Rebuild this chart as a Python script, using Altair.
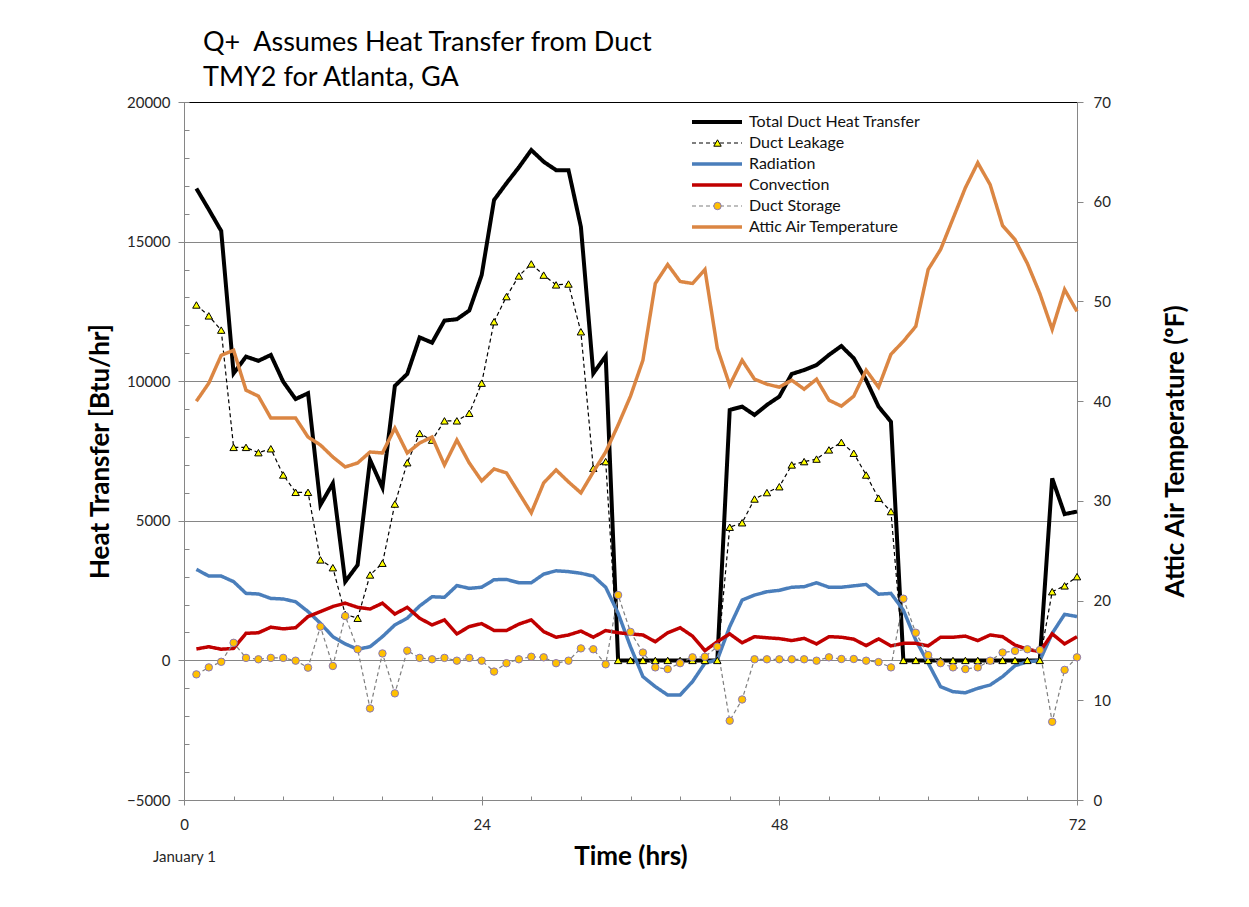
import altair as alt
import pandas as pd

hours = list(range(1, 73))

total = [16900, 16150, 15380, 10280, 10880, 10730, 10940, 9980, 9360, 9570,
         5570, 6340, 2820, 3420, 7180, 6190, 9830, 10260, 11570, 11380,
         12170, 12220, 12530, 13800, 16490, 17090, 17660, 18280, 17860, 17560,
         17560, 15530, 10280, 10900, 0, 0, 0, 0, 0, 0,
         0, 0, 0, 8970, 9090, 8790, 9150, 9450, 10260, 10400,
         10580, 10940, 11260, 10820, 10040, 9090, 8550, 0, 0, 0,
         0, 0, 0, 0, 0, 0, 0, 0, 0, 6520, 5240, 5330]

leakage = [12730, 12340, 11830, 7630, 7630, 7440, 7580, 6640, 6020, 6020,
           3600, 3320, 1650, 1510, 3060, 3480, 5600, 7080, 8130, 7890,
           8580, 8580, 8850, 9930, 12130, 13030, 13770, 14200, 13800, 13450,
           13480, 11770, 6880, 7120, 0, 0, 0, 0, 0, 0,
           0, 0, 0, 4770, 4930, 5780, 6010, 6220, 7000, 7120,
           7210, 7540, 7810, 7420, 6640, 5810, 5330, 0, 0, 0,
           0, 0, 0, 0, 0, 0, 0, 0, 0, 2460, 2670, 3000]

radiation = [3260, 3020, 3020, 2820, 2400, 2380, 2220, 2200, 2100, 1750,
             1330, 850, 590, 400, 490, 850, 1270, 1510, 1950, 2280,
             2260, 2680, 2580, 2620, 2890, 2900, 2780, 2780, 3090, 3210,
             3180, 3120, 3020, 2620, 1690, 490, -580, -940, -1240, -1240,
             -760, -100, 20, 1210, 2160, 2340, 2460, 2510, 2620, 2640,
             2780, 2620, 2620, 2670, 2720, 2370, 2400, 1800, 730, -100,
             -940, -1120, -1160, -1000, -880, -580, -190, -50, -10, 970, 1650, 1570]

convection = [410, 490, 400, 430, 970, 990, 1190, 1130, 1170, 1570,
              1750, 1930, 2050, 1900, 1840, 2050, 1660, 1900, 1510, 1270,
              1450, 950, 1210, 1320, 1070, 1070, 1300, 1450, 1030, 830,
              910, 1050, 830, 1070, 990, 950, 910, 670, 990, 1170,
              870, 350, 670, 950, 630, 850, 810, 780, 710, 790,
              590, 850, 830, 760, 530, 770, 520, 610, 610, 520,
              830, 830, 870, 710, 910, 850, 550, 400, 310, 950, 590, 850]

storage = [-500, -250, -50, 630, 90, 40, 90, 90, -10, -260,
           1210, -200, 1590, 400, -1720, 250, -1180, 350, 90, 40,
           90, -10, 90, -10, -400, -100, 40, 130, 110, -100,
           -10, 430, 400, -140, 2340, 1020, 280, -250, -310, -100,
           110, 130, 490, -2160, -1400, 40, 40, 40, 40, 40,
           -10, 110, 50, 50, -10, -60, -250, 2210, 990, 190,
           -100, -250, -310, -250, -10, 280, 340, 400, 370, -2200, -340, 110]

attic = [40.0, 41.8, 44.6, 45.1, 41.1, 40.5, 38.3, 38.3, 38.3, 36.4,
         35.6, 34.4, 33.4, 33.8, 34.9, 34.8, 37.3, 34.8, 35.8, 36.4,
         33.6, 36.1, 33.8, 32.0, 33.2, 32.8, 30.8, 28.8, 31.8, 33.1,
         31.9, 30.8, 32.9, 34.9, 37.6, 40.5, 44.1, 51.8, 53.7, 52.0,
         51.8, 53.2, 45.3, 41.6, 44.1, 42.2, 41.7, 41.4, 42.1, 41.2,
         42.2, 40.1, 39.5, 40.5, 43.1, 41.4, 44.7, 46.0, 47.5, 53.2,
         55.2, 58.3, 61.4, 63.9, 61.7, 57.6, 56.2, 53.8, 50.8, 47.2, 51.2, 49.0]

series_names = ["Total Duct Heat Transfer", "Duct Leakage", "Radiation",
                "Convection", "Duct Storage", "Attic Air Temperature"]
title_lines = ["Q+ \u00a0Assumes Heat Transfer from Duct", "TMY2 for Atlanta, GA"]

# styles
line_colors = ["#000000", "#000000", "#4A7EBB", "#C00000", "#7F7F7F", "#DB8643"]
line_dashes = [[1, 0], [4, 3], [1, 0], [1, 0], [4, 3], [1, 0]]
line_widths = [4, 1.2, 3.5, 3.5, 1.2, 3.5]
pt_keys = ["p1", "p2", "p3", "p4", "p5", "p6"]
pt_fills = ["transparent", "#FFFF00", "transparent", "transparent", "#FFC000", "transparent"]
pt_strokes = ["transparent", "#000000", "transparent", "transparent", "#8A78B8", "transparent"]
pt_shapes = ["circle", "triangle-up", "circle", "circle", "circle", "circle"]

left_series = {"Total Duct Heat Transfer": total, "Duct Leakage": leakage,
               "Radiation": radiation, "Convection": convection, "Duct Storage": storage}
rows = []
for name, vals in left_series.items():
    for h, v in zip(hours, vals):
        rows.append({"hour": h, "value": v, "series": name})
left_df = pd.DataFrame(rows)

pt_rows = []
for name, key in [("Duct Leakage", "p2"), ("Duct Storage", "p5")]:
    for h, v in zip(hours, left_series[name]):
        pt_rows.append({"hour": h, "value": v, "pt": key})
pt_df = pd.DataFrame(pt_rows)

right_df = pd.DataFrame({"hour": hours, "temp": attic,
                         "series": ["Attic Air Temperature"] * len(hours)})

FONT = "Lato"
TXT = "#262626"
GRID = "#868686"
AXT = 26

leg1 = alt.Legend(title=None, orient="none", legendX=506, legendY=9.5,
                  symbolType="stroke", symbolSize=2500, clipHeight=21,
                  rowPadding=0, padding=0, labelFont=FONT, labelFontSize=16,
                  labelColor="#111111", labelOffset=5, labelLimit=400)
leg2 = alt.Legend(title=None, orient="none", legendX=526.5, legendY=9.5,
                  symbolSize=55, clipHeight=21, rowPadding=0, padding=0,
                  labelOpacity=0, labelFontSize=14, symbolStrokeWidth=1)

color_enc = alt.Color("series:N", scale=alt.Scale(domain=series_names, range=line_colors), legend=leg1)
dash_enc = alt.StrokeDash("series:N", scale=alt.Scale(domain=series_names, range=line_dashes), legend=leg1)
width_enc = alt.StrokeWidth("series:N", scale=alt.Scale(type="ordinal", domain=series_names, range=line_widths), legend=leg1)

x_major = alt.Axis(orient="bottom", values=[0, 24, 48, 72], grid=False,
                   title="Time (hrs)", titleFont=FONT, titleFontSize=AXT,
                   titleFontWeight="bold", titleColor="#000000",
                   titleY=64, titleBaseline="alphabetic",
                   labelFont=FONT, labelFontSize=15, labelColor=TXT,
                   labelExpr="datum.value == 0 ? ['0', 'January 1'] : datum.label",
                   labelLineHeight=32, labelPadding=12, labelFlush=False,
                   tickSize=5, tickColor=GRID, domainColor=GRID)
x_minor = alt.Axis(orient="bottom", values=list(range(0, 73, 4)), grid=False,
                   labels=False, domain=False, title=None, offset=-4,
                   tickSize=4, tickColor=GRID)

y_major = alt.Axis(orient="left", values=[-5000, 0, 5000, 10000, 15000, 20000],
                   format="d", labelFlush=False,
                   grid=True, gridColor={"condition": {"test": "datum.value === 20000", "value": "#000000"}, "value": GRID},
                   gridWidth=1,
                   title="Heat Transfer [Btu/hr]", titleFont=FONT, titleFontSize=AXT,
                   titleFontWeight="bold", titleColor="#000000", titleAngle=270,
                   titleX=-84, titleY=349, titleAlign="center", titleBaseline="middle",
                   labelFont=FONT, labelFontSize=15, labelColor=TXT, labelPadding=8,
                   tickSize=6, tickColor=GRID, domainColor=GRID)
y_minor = alt.Axis(orient="left", values=list(range(-5000, 20001, 1000)), grid=False,
                   labels=False, domain=False, title=None, offset=-5,
                   tickSize=5, tickColor=GRID)

y_right = alt.Axis(orient="right", values=list(range(0, 71, 10)), grid=False,
                   labelFlush=False,
                   title="Attic Air Temperature (ºF)", titleFont=FONT, titleFontSize=AXT,
                   titleFontWeight="bold", titleColor="#000000", titleAngle=270,
                   titleX=98, titleY=349, titleAlign="center", titleBaseline="middle",
                   labelFont=FONT, labelFontSize=15, labelColor=TXT, labelPadding=10,
                   tickSize=6, tickColor=GRID, domainColor=GRID)

xs = alt.Scale(domain=[0, 72], nice=False, zero=False)
ys = alt.Scale(domain=[-5000, 20000], nice=False, zero=False)

lines = alt.Chart(left_df).mark_line(strokeCap="butt", strokeJoin="miter").encode(
    x=alt.X("hour:Q", scale=xs, axis=x_major),
    y=alt.Y("value:Q", scale=ys, axis=y_major),
    color=color_enc, strokeDash=dash_enc, strokeWidth=width_enc,
    detail="series:N",
)

points = alt.Chart(pt_df).mark_point(filled=True, size=55, strokeWidth=1, opacity=1).encode(
    x=alt.X("hour:Q", scale=xs, axis=x_minor),
    y=alt.Y("value:Q", scale=ys, axis=y_minor),
    fill=alt.Fill("pt:N", scale=alt.Scale(domain=pt_keys, range=pt_fills), legend=leg2),
    stroke=alt.Stroke("pt:N", scale=alt.Scale(domain=pt_keys, range=pt_strokes), legend=leg2),
    shape=alt.Shape("pt:N", scale=alt.Scale(domain=pt_keys, range=pt_shapes), legend=leg2),
)

left = alt.layer(lines, points).resolve_axis(x="independent", y="independent")

right = alt.Chart(right_df).mark_line(strokeCap="butt").encode(
    x=alt.X("hour:Q", scale=xs, axis=None),
    y=alt.Y("temp:Q", scale=alt.Scale(domain=[0, 70], nice=False, zero=False), axis=y_right),
    color=color_enc, strokeDash=dash_enc, strokeWidth=width_enc,
)

chart = alt.layer(left, right).resolve_scale(y="independent").properties(
    width=893, height=698,
    autosize=alt.AutoSizeParams(type="none"),
    padding={"left": 176, "top": 94, "right": 164, "bottom": 99},
    title=alt.TitleParams(text=title_lines, anchor="start", frame="group", dx=19,
                          offset=9, dy=33, fontSize=27, font=FONT, fontWeight="normal",
                          lineHeight=35, baseline="bottom", color="#000000"),
).configure_view(stroke=None).configure(background="white")

chart.save("out.html", embed_options={"renderer": "svg", "actions": False})
